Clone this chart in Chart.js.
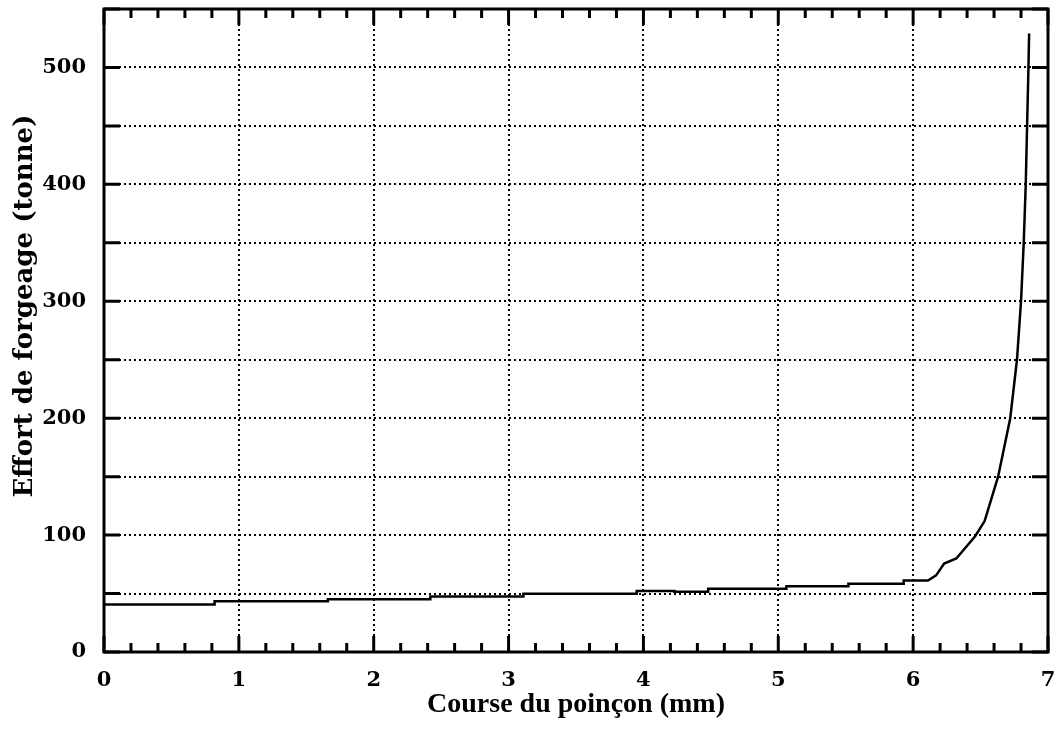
<!DOCTYPE html>
<html>
<head>
<meta charset="utf-8">
<script src="https://cdn.jsdelivr.net/npm/chart.js@4.4.1/dist/chart.umd.min.js"></script>
<style>
  html, body { margin:0; padding:0; background:#fff; }
</style>
</head>
<body>
<canvas id="forgeChart" width="1055" height="738"></canvas>
<script>
// course du poinçon (mm) / effort (tonne)
const courseMm = [0, 0.82, 0.82, 1.66, 1.66, 2.42, 2.42, 3.11, 3.11, 3.95, 3.95, 4.23, 4.23, 4.48, 4.48,
  5.06, 5.06, 5.52, 5.52, 5.93, 5.93, 6.11, 6.17, 6.23, 6.32, 6.46, 6.53, 6.58, 6.63, 6.72, 6.77,
  6.80, 6.82, 6.835, 6.845, 6.855, 6.86];
const effortT = [40.7, 40.7, 43.5, 43.5, 45.2, 45.2, 47.5, 47.5, 49.9, 49.9, 52.1, 52.1, 51.5, 51.5, 54.1,
  54.1, 56.3, 56.3, 58.4, 58.4, 61.2, 61.2, 65.5, 75.7, 80, 99, 112, 131, 150, 200, 250,
  300, 350, 400, 450, 500, 529];
const yLabelled = [0, 100, 200, 300, 400, 500];

const tickFont = { family: 'DejaVu Serif', weight: 'bold', size: 21 };

// cadre + graduations intérieures + titre vertical
const frameTicks = {
  id: 'frameTicks',
  afterDatasetsDraw(chart) {
    const { ctx, chartArea: a, scales: { x, y } } = chart;
    ctx.save();
    ctx.strokeStyle = '#000';
    ctx.lineWidth = 3;
    ctx.beginPath();
    y.ticks.forEach(t => {
      const py = y.getPixelForValue(t.value);
      ctx.moveTo(a.left, py); ctx.lineTo(a.left + 16, py);
      ctx.moveTo(a.right, py); ctx.lineTo(a.right - 16, py);
    });
    for (let i = 0; i <= 35; i++) {
      const px = x.getPixelForValue(i / 5);
      const len = i % 5 === 0 ? 16 : 9;
      ctx.moveTo(px, a.bottom); ctx.lineTo(px, a.bottom - len);
      ctx.moveTo(px, a.top); ctx.lineTo(px, a.top + len);
    }
    ctx.stroke();
    ctx.strokeRect(a.left, a.top, a.width, a.height);

    ctx.translate(25, 306);
    ctx.rotate(-Math.PI / 2);
    ctx.fillStyle = '#000';
    ctx.font = 'bold 26px "DejaVu Serif"';
    ctx.textAlign = 'center';
    ctx.textBaseline = 'middle';
    ctx.fillText('Effort de forgeage (tonne)', 0, 0);
    ctx.restore();
  }
};

new Chart(document.getElementById('forgeChart'), {
  type: 'line',
  data: {
    datasets: [{
      data: courseMm.map((c, i) => ({ x: c, y: effortT[i] })),
      borderColor: '#000',
      borderWidth: 2.5,
      pointRadius: 0,
      tension: 0,
      fill: false
    }]
  },
  options: {
    responsive: false,
    animation: false,
    layout: { padding: { left: 0, right: 7, top: 9, bottom: 0 } },
    plugins: { legend: { display: false }, tooltip: { enabled: false } },
    scales: {
      x: {
        type: 'linear', min: 0, max: 7,
        ticks: { stepSize: 1, padding: 16, color: '#000', font: tickFont, maxRotation: 0 },
        grid: { color: '#000', lineWidth: 2, drawTicks: false, borderDash: [2, 3] },
        border: { display: false, dash: [2, 3] },
        title: {
          display: true, text: 'Course du poinçon (mm)', color: '#000',
          font: { family: 'Liberation Serif', weight: 'bold', size: 28 },
          padding: { top: 0, bottom: 16 }
        },
        afterFit(s) { s.height = 86; s.paddingLeft = 0; s.paddingRight = 0; }
      },
      y: {
        min: 0, max: 550,
        ticks: {
          stepSize: 50, padding: 18, color: '#000', font: tickFont,
          callback: v => yLabelled.includes(v) ? v : ''
        },
        grid: { color: '#000', lineWidth: 2, drawTicks: false, borderDash: [2, 3] },
        border: { display: false, dash: [2, 3] },
        afterFit(s) { s.width = 104; s.paddingTop = 0; s.paddingBottom = 0; }
      }
    }
  },
  plugins: [frameTicks]
});
</script>
</body>
</html>
